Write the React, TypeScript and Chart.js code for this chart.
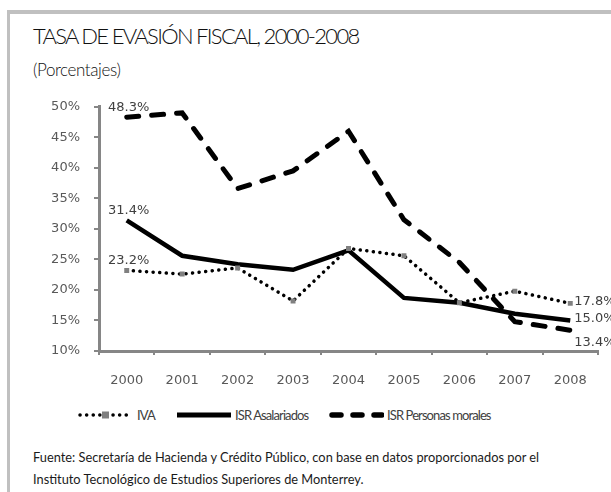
import React, { useEffect, useRef } from "react";
import { Chart, registerables } from "chart.js";

Chart.register(...registerables);

const years = ["2000", "2001", "2002", "2003", "2004", "2005", "2006", "2007", "2008"];
const iva = [23.2, 22.6, 23.6, 18.2, 26.8, 25.6, 17.9, 19.8, 17.8];
const isrAsalariados = [31.4, 25.6, 24.2, 23.3, 26.5, 18.7, 17.9, 16.1, 15.0];
const isrMorales = [48.3, 49.0, 36.6, 39.5, 46.0, 31.5, 24.5, 14.8, 13.4];
const yMin = 10;
const yMax = 50;
const yStep = 5;

const seriesNames = ["IVA", "ISR Asalariados", "ISR Personas morales"];

const fmt = (v: number) => v.toFixed(1) + "%";

const endLabels = [
  { ds: 2, idx: 0, where: "above" },
  { ds: 1, idx: 0, where: "above" },
  { ds: 0, idx: 0, where: "above" },
  { ds: 0, idx: 8, where: "right" },
  { ds: 1, idx: 8, where: "right" },
  { ds: 2, idx: 8, where: "belowright" },
];

const labelPlugin = {
  id: "endLabels",
  afterDatasetsDraw(chart: any) {
    const ctx = chart.ctx;
    ctx.save();
    ctx.font = "13px 'DejaVu Sans'";
    ctx.fillStyle = "#404040";
    for (const l of endLabels) {
      const meta = chart.getDatasetMeta(l.ds);
      const pt = meta.data[l.idx];
      const val = chart.data.datasets[l.ds].data[l.idx];
      const text = fmt(val);
      if (l.where === "above") {
        ctx.textAlign = "center";
        ctx.textBaseline = "middle";
        ctx.fillText(text, pt.x + 2, pt.y - 10);
      } else if (l.where === "right") {
        ctx.textAlign = "left";
        ctx.textBaseline = "middle";
        ctx.fillText(text, pt.x + 4, pt.y - 2);
      } else {
        ctx.textAlign = "left";
        ctx.textBaseline = "middle";
        ctx.fillText(text, pt.x + 4, pt.y + 12);
      }
    }
    ctx.restore();
  },
};

function LegendMark({ kind }: { kind: number }) {
  if (kind === 0) {
    return (
      <svg width="56" height="12" style={{ display: "block" }}>
        <line x1="2" y1="6" x2="54" y2="6" stroke="#000" strokeWidth="3.5" strokeLinecap="round" strokeDasharray="0.1 6.5" />
        <rect x="24" y="2.5" width="7" height="7" fill="#808080" />
      </svg>
    );
  }
  if (kind === 1) {
    return (
      <svg width="56" height="12" style={{ display: "block" }}>
        <line x1="1" y1="6" x2="55" y2="6" stroke="#000" strokeWidth="5" />
      </svg>
    );
  }
  return (
    <svg width="56" height="12" style={{ display: "block" }}>
      <line x1="4" y1="6" x2="54" y2="6" stroke="#000" strokeWidth="5.5" strokeLinecap="round" strokeDasharray="9 12" />
    </svg>
  );
}

export default function App() {
  const ref = useRef<HTMLCanvasElement>(null);

  useEffect(() => {
    const canvas = ref.current;
    if (!canvas) return;
    const chart = new Chart(canvas, {
      type: "line",
      data: {
        labels: years,
        datasets: [
          {
            label: seriesNames[0],
            data: iva,
            borderColor: "#000",
            borderWidth: 3.5,
            borderDash: [0.1, 6.5],
            borderCapStyle: "round",
            pointStyle: "rect",
            pointRadius: 3.5,
            pointBackgroundColor: "#808080",
            pointBorderWidth: 0,
            tension: 0,
            order: 0,
          },
          {
            label: seriesNames[1],
            data: isrAsalariados,
            borderColor: "#000",
            borderWidth: 4.5,
            pointRadius: 0,
            borderJoinStyle: "miter",
            tension: 0,
            order: 1,
          },
          {
            label: seriesNames[2],
            data: isrMorales,
            borderColor: "#000",
            borderWidth: 5,
            borderDash: [12, 13],
            borderCapStyle: "round",
            pointRadius: 0,
            tension: 0,
            order: 2,
          },
        ],
      },
      options: {
        responsive: false,
        animation: false,
        layout: { padding: { left: 0, right: 13, top: 18, bottom: 0 } },
        plugins: { legend: { display: false }, tooltip: { enabled: false } },
        scales: {
          x: {
            offset: true,
            grid: {
              offset: true,
              drawOnChartArea: false,
              drawTicks: true,
              tickLength: 4,
              color: "#868686",
              lineWidth: 2,
            },
            border: { color: "#868686", width: 3 },
            ticks: {
              color: "#595959",
              font: { family: "'DejaVu Sans'", size: 13 },
              padding: 18,
              maxRotation: 0,
            },
            afterFit(scale: any) {
              scale.height = 40;
            },
          },
          y: {
            min: yMin,
            max: yMax,
            grid: {
              drawOnChartArea: false,
              drawTicks: true,
              tickLength: 5,
              color: "#868686",
              lineWidth: 2,
            },
            border: { color: "#868686", width: 3 },
            ticks: {
              stepSize: yStep,
              color: "#595959",
              font: { family: "'DejaVu Sans'", size: 13 },
              padding: 14,
              callback: (v: any) => v + "%",
            },
            afterFit(scale: any) {
              scale.width = 99;
            },
          },
        },
      },
      plugins: [labelPlugin],
    } as any);
    return () => chart.destroy();
  }, []);

  const legendText: React.CSSProperties = {
    position: "absolute",
    top: 406,
    lineHeight: "18px",
    fontFamily: "Lato, 'Open Sans', sans-serif",
    fontSize: 13,
    letterSpacing: -0.9,
    color: "#404040",
    whiteSpace: "nowrap",
  };
  const markPos = (left: number): React.CSSProperties => ({ position: "absolute", left, top: 409 });

  return (
    <div style={{ position: "absolute", left: 0, top: 0, width: 611, height: 492, overflow: "hidden", background: "#fff" }}>
      <div
        style={{
          position: "absolute",
          left: 7,
          top: 10,
          width: 700,
          height: 600,
          borderTop: "4px solid #c0c0c0",
          borderLeft: "3px solid #c0c0c0",
          boxSizing: "border-box",
        }}
      />
      <div
        style={{
          position: "absolute",
          left: 33,
          top: 22,
          fontFamily: "Lato, sans-serif",
          fontWeight: 300,
          fontSize: 22,
          letterSpacing: -1.7,
          color: "#111",
          whiteSpace: "nowrap",
          lineHeight: "28px",
        }}
      >
        TASA DE EVASIÓN FISCAL, 2000-2008
      </div>
      <div
        style={{
          position: "absolute",
          left: 33,
          top: 58,
          fontFamily: "Lato, sans-serif",
          fontWeight: 300,
          fontSize: 17,
          letterSpacing: -0.4,
          color: "#111",
          whiteSpace: "nowrap",
          lineHeight: "24px",
        }}
      >
        (Porcentajes)
      </div>
      <canvas ref={ref} width={611} height={306} style={{ position: "absolute", left: 0, top: 85, width: 611, height: 306 }} />
      <div style={markPos(78)}><LegendMark kind={0} /></div>
      <span style={{ ...legendText, left: 137 }}>{seriesNames[0]}</span>
      <div style={markPos(176)}><LegendMark kind={1} /></div>
      <span style={{ ...legendText, left: 235 }}>{seriesNames[1]}</span>
      <div style={markPos(328)}><LegendMark kind={2} /></div>
      <span style={{ ...legendText, left: 387 }}>{seriesNames[2]}</span>
      <div
        style={{
          position: "absolute",
          left: 33,
          top: 446,
          fontFamily: "Lato, sans-serif",
          fontSize: 12.8,
          color: "#1a1a1a",
          lineHeight: "22px",
          whiteSpace: "nowrap",
        }}
      >
        <div>Fuente: Secretaría  de Hacienda y Crédito Público, con base en datos proporcionados  por el</div>
        <div>Instituto Tecnológico de Estudios Superiores de Monterrey.</div>
      </div>
    </div>
  );
}
